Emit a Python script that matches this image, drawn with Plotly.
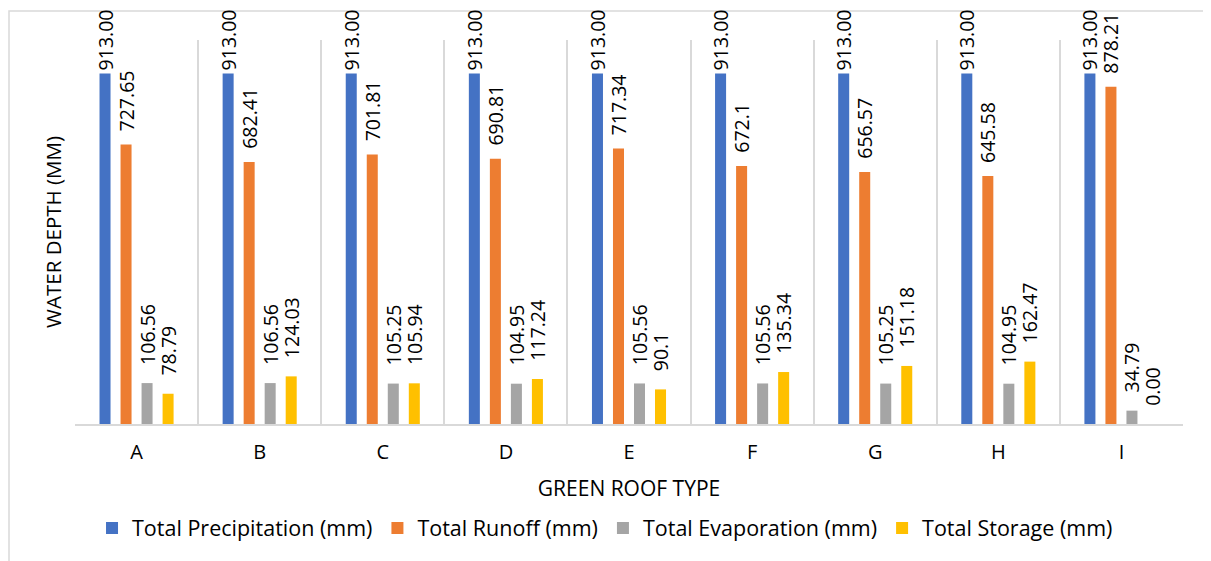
import plotly.graph_objects as go

categories = ["A", "B", "C", "D", "E", "F", "G", "H", "I"]
precipitation = [913.00, 913.00, 913.00, 913.00, 913.00, 913.00, 913.00, 913.00, 913.00]
runoff = [727.65, 682.41, 701.81, 690.81, 717.34, 672.1, 656.57, 645.58, 878.21]
evaporation = [106.56, 106.56, 105.25, 104.95, 105.56, 105.56, 105.25, 104.95, 34.79]
storage = [78.79, 124.03, 105.94, 117.24, 90.1, 135.34, 151.18, 162.47, 0.00]

precipitation_text = ["913.00"] * 9
runoff_text = ["727.65", "682.41", "701.81", "690.81", "717.34", "672.1", "656.57", "645.58", "878.21"]
evaporation_text = ["106.56", "106.56", "105.25", "104.95", "105.56", "105.56", "105.25", "104.95", "34.79"]
storage_text = ["78.79", "124.03", "105.94", "117.24", "90.1", "135.34", "151.18", "162.47", "0.00"]

series = [
    ("Total Precipitation (mm)", precipitation, precipitation_text, "#4472C4", ""),
    ("Total Runoff (mm)", runoff, runoff_text, "#ED7D31", "  "),
    ("Total Evaporation (mm)", evaporation, evaporation_text, "#A5A5A5", "   "),
    ("Total Storage (mm)", storage, storage_text, "#FFC000", "   "),
]

FONT = "Open Sans"
fig = go.Figure()
for name, vals, txt, color, pad in series:
    fig.add_trace(go.Bar(
        x=categories, y=vals, name=name,
        marker=dict(color=color, line=dict(width=0)),
        text=[pad + t for t in txt],
        textposition="outside", textangle=-90,
        constraintext="none", cliponaxis=False,
        textfont=dict(family=FONT, size=19.5, color="#000000"),
    ))

# page has an 8px body offset: target page coords minus 8
OFF = 8
W, H = 1211, 561
L, R, T, B = 75 - OFF, 1211 - 1183 + OFF, 40 - OFF, 561 - 424 + OFF
pw, ph = W - L - R, H - T - B

def px(x):
    return (x - OFF - L) / pw

def py(y):
    return (H - B - (y - OFF)) / ph

fig.update_layout(
    width=W, height=H,
    margin=dict(l=L, r=R, t=T, b=B),
    paper_bgcolor="white", plot_bgcolor="white",
    barmode="group", bargap=0.317, bargroupgap=0.476,
    font=dict(family=FONT, color="#000000"),
    showlegend=True,
    legend=dict(orientation="h", xref="container", x=0.493, xanchor="center",
                yref="container", y=(561 - 520) / 561, yanchor="middle",
                font=dict(family=FONT, size=21.5), itemwidth=30,
                traceorder="normal"),
    xaxis=dict(
        tickson="boundaries", showgrid=True, gridcolor="#D9D9D9", gridwidth=1.5,
        showline=True, linecolor="#D9D9D9", linewidth=1.5,
        ticks="", tickfont=dict(family=FONT, size=20), ticklabelstandoff=9,
        title=dict(text="GREEN ROOF TYPE", font=dict(family=FONT, size=21), standoff=18),
        automargin=False,
    ),
    yaxis=dict(
        range=[0, 1000], showgrid=False, showticklabels=False, ticks="",
        zeroline=False, showline=False,
        title=dict(text="WATER DEPTH (MM)", font=dict(family=FONT, size=20.5), standoff=6),
        automargin=False,
    ),
    shapes=[dict(type="rect", xref="paper", yref="paper",
                 x0=px(9), x1=px(1230), y0=py(580), y1=py(11),
                 line=dict(color="#D9D9D9", width=1.5), fillcolor="rgba(0,0,0,0)",
                 layer="below")],
)

fig.write_html("out.html")
